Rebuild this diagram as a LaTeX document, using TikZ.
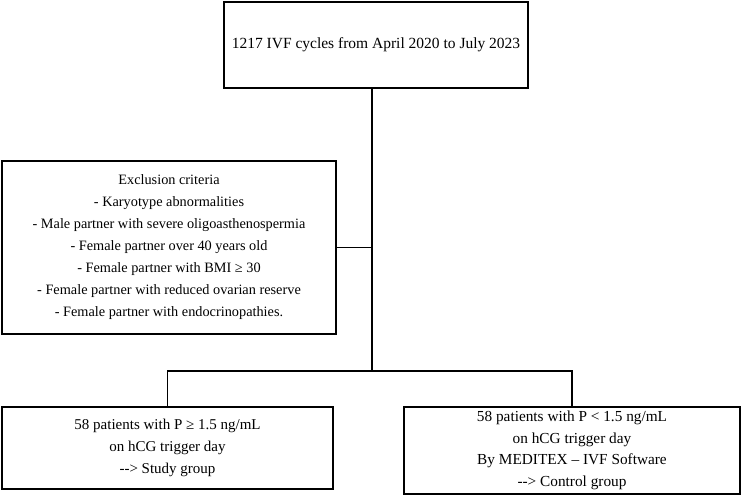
\documentclass[tikz,border=0pt]{standalone}
\usepackage{fontspec}
\setmainfont{Liberation Serif}
\usetikzlibrary{positioning,calc}

\begin{document}
\begin{tikzpicture}[
          x=1pt, y=-1pt,
          box/.style={draw, line width=1.4pt, align=center, inner sep=0pt,
            font=\fontsize{15}{22}\selectfont},
          link/.style={line width=1.4pt}
      ]
        \useasboundingbox (0,0) rectangle (744,495);
        \node[box, font=\fontsize{15.5}{22}\selectfont, minimum width=304, minimum height=86] (cycles) at (376,45) {1217 IVF cycles from April 2020 to July 2023};
        \node[box, font=\fontsize{14.3}{22}\selectfont, minimum width=334, minimum height=173] (excl) at (169,247.5) {Exclusion criteria\\
          - Karyotype abnormalities\\
          - Male partner with severe oligoasthenospermia\\
          - Female partner over 40 years old\\
          - Female partner with BMI ≥ 30\\
          - Female partner with reduced ovarian reserve\\
          - Female partner with endocrinopathies.};
        \node[box, minimum width=331, minimum height=82] (study) at (167.5,448) {58 patients with P ≥ 1.5 ng/mL\\
          on hCG trigger day\\
          -{}-{}> Study group};
        \node[box, font=\fontsize{15.3}{21.5}\selectfont, minimum width=336, minimum height=87] (control) at (572,450.5) {58 patients with P < 1.5 ng/mL\\
          on hCG trigger day\\
          By MEDITEX – IVF Software\\
          -{}-{}> Control group};
        \coordinate (split) at (372,371);
        \draw[link] (cycles.south -| split) -- (split);
        \draw[link] (excl.east) -- (excl.east -| split);
        \draw[link] (study.north) |- (split) -| (control.north);
      \end{tikzpicture}
\end{document}
